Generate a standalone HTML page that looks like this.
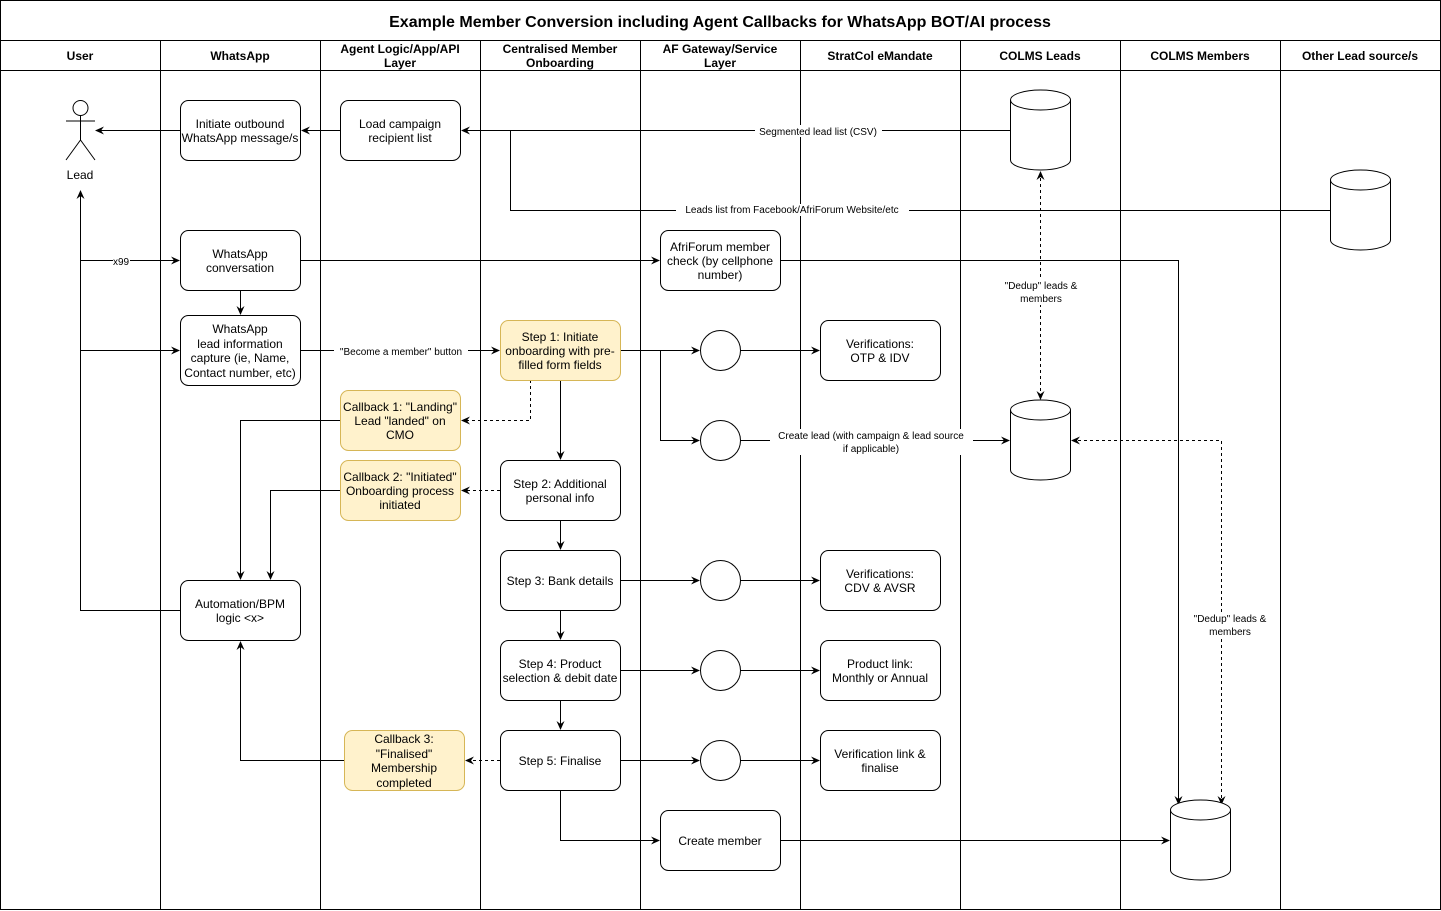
<!DOCTYPE html>
<html><head><meta charset="utf-8"><style>
html,body{margin:0;padding:0;background:#fff}
svg{display:block;font-family:"Liberation Sans",Arial,sans-serif}
</style></head><body>
<svg width="1441" height="911" viewBox="0 0 1441 911" xmlns="http://www.w3.org/2000/svg">
<defs>
<marker id="a" markerWidth="10" markerHeight="10" refX="8" refY="5" orient="auto" markerUnits="userSpaceOnUse"><path d="M0,1 L9,5 L0,9 L3,5 Z" fill="#000"/></marker>
<marker id="as" markerWidth="10" markerHeight="10" refX="2" refY="5" orient="auto" markerUnits="userSpaceOnUse"><path d="M10,1 L1,5 L10,9 L7,5 Z" fill="#000"/></marker>
</defs>
<g fill="none" stroke="#000" stroke-width="1">
<rect x="0.5" y="0.5" width="1440" height="909"/>
<line x1="0" y1="40.5" x2="1441" y2="40.5"/>
<line x1="0" y1="70.5" x2="1441" y2="70.5"/>
<line x1="160.5" y1="40" x2="160.5" y2="910"/>
<line x1="320.5" y1="40" x2="320.5" y2="910"/>
<line x1="480.5" y1="40" x2="480.5" y2="910"/>
<line x1="640.5" y1="40" x2="640.5" y2="910"/>
<line x1="800.5" y1="40" x2="800.5" y2="910"/>
<line x1="960.5" y1="40" x2="960.5" y2="910"/>
<line x1="1120.5" y1="40" x2="1120.5" y2="910"/>
<line x1="1280.5" y1="40" x2="1280.5" y2="910"/>
</g>
<g font-size="12" font-weight="bold" text-anchor="middle">
<text x="720" y="27" font-size="16">Example Member Conversion including Agent Callbacks for WhatsApp BOT/AI process</text>
<text x="80" y="60">User</text>
<text x="240" y="60">WhatsApp</text>
<text x="400" y="53">Agent Logic/App/API</text><text x="400" y="67">Layer</text>
<text x="560" y="53">Centralised Member</text><text x="560" y="67">Onboarding</text>
<text x="720" y="53">AF Gateway/Service</text><text x="720" y="67">Layer</text>
<text x="880" y="60">StratCol eMandate</text>
<text x="1040" y="60">COLMS Leads</text>
<text x="1200" y="60">COLMS Members</text>
<text x="1360" y="60">Other Lead source/s</text>
</g>
<!-- connectors -->
<g fill="none" stroke="#000" stroke-width="1">
<path d="M1010,130.5 H462" marker-end="url(#a)"/>
<path d="M1330,210.5 H510.5 V130.5"/>
<path d="M180,130.5 H96" marker-end="url(#a)"/>
<path d="M340,130.5 H302" marker-end="url(#a)"/>
<path d="M180,610.5 H80.5 V191" marker-end="url(#a)"/>
<path d="M80.5,260.5 H179" marker-end="url(#a)"/>
<path d="M80.5,350.5 H179" marker-end="url(#a)"/>
<path d="M240.5,290 V314" marker-end="url(#a)"/>
<path d="M300,260.5 H659" marker-end="url(#a)"/>
<path d="M780,260.5 H1178.5 V804" marker-end="url(#a)"/>
<path d="M300,350.5 H499" marker-end="url(#a)"/>
<path d="M620,350.5 H699" marker-end="url(#a)"/>
<path d="M740,350.5 H819" marker-end="url(#a)"/>
<path d="M660.5,350.5 V440.5 H699" marker-end="url(#a)"/>
<path d="M740,440.5 H1009" marker-end="url(#a)"/>
<path d="M530.5,380 V420.5 H462" stroke-dasharray="3,3" marker-end="url(#a)"/>
<path d="M560.5,380 V459" marker-end="url(#a)"/>
<path d="M340,420.5 H240.5 V579" marker-end="url(#a)"/>
<path d="M500,490.5 H462" stroke-dasharray="3,3" marker-end="url(#a)"/>
<path d="M340,490.5 H270.5 V579" marker-end="url(#a)"/>
<path d="M560.5,520 V549" marker-end="url(#a)"/>
<path d="M620,580.5 H699" marker-end="url(#a)"/>
<path d="M740,580.5 H819" marker-end="url(#a)"/>
<path d="M560.5,610 V639" marker-end="url(#a)"/>
<path d="M620,670.5 H699" marker-end="url(#a)"/>
<path d="M740,670.5 H819" marker-end="url(#a)"/>
<path d="M560.5,700 V729" marker-end="url(#a)"/>
<path d="M500,760.5 H466" stroke-dasharray="3,3" marker-end="url(#a)"/>
<path d="M344,760.5 H240.5 V642" marker-end="url(#a)"/>
<path d="M620,760.5 H699" marker-end="url(#a)"/>
<path d="M740,760.5 H819" marker-end="url(#a)"/>
<path d="M560.5,790 V840.5 H659" marker-end="url(#a)"/>
<path d="M780,840.5 H1169" marker-end="url(#a)"/>
<path d="M1040.5,172 V399" stroke-dasharray="3,3" marker-start="url(#as)" marker-end="url(#a)"/>
<path d="M1072,440.5 H1221.5 V804" stroke-dasharray="3,3" marker-start="url(#as)" marker-end="url(#a)"/>
</g>
<!-- edge labels -->
<g font-size="10" text-anchor="middle">
<rect x="755" y="125" width="127" height="12" fill="#fff"/><text x="818" y="135">Segmented lead list (CSV)</text>
<rect x="676" y="204" width="233" height="12" fill="#fff"/><text x="792" y="213">Leads list from Facebook/AfriForum Website/etc</text>
<rect x="113" y="255" width="17" height="12" fill="#fff"/><text x="121" y="265">x99</text>
<rect x="334" y="345" width="134" height="12" fill="#fff"/><text x="401" y="355">"Become a member" button</text>
<rect x="770" y="429" width="203" height="26" fill="#fff"/><text x="871" y="439">Create lead (with campaign &amp; lead source</text><text x="871" y="452">if applicable)</text>
<rect x="1000" y="279" width="82" height="26" fill="#fff"/><text x="1041" y="289">"Dedup" leads &amp;</text><text x="1041" y="302">members</text>
<rect x="1189" y="612" width="82" height="26" fill="#fff"/><text x="1230" y="622">"Dedup" leads &amp;</text><text x="1230" y="635">members</text>
</g>
<!-- actor -->
<g fill="none" stroke="#000">
<circle cx="80.5" cy="108" r="7.5" fill="#fff"/>
<path d="M80.5,115.5 V140 M66,121 H95 M80.5,140 L66,160 M80.5,140 L95,160"/>
</g>
<text x="80" y="179" font-size="12" text-anchor="middle">Lead</text>
<!-- cylinders -->
<g fill="#fff" stroke="#000">
<path d="M1010.5,100 V160 A30,10 0 0 0 1070.5,160 V100 A30,10 0 0 0 1010.5,100 Z M1010.5,100 A30,10 0 0 0 1070.5,100"/>
<path d="M1010.5,410 V470 A30,10 0 0 0 1070.5,470 V410 A30,10 0 0 0 1010.5,410 Z M1010.5,410 A30,10 0 0 0 1070.5,410"/>
<path d="M1330.5,180 V240 A30,10 0 0 0 1390.5,240 V180 A30,10 0 0 0 1330.5,180 Z M1330.5,180 A30,10 0 0 0 1390.5,180"/>
<path d="M1170.5,810 V870 A30,10 0 0 0 1230.5,870 V810 A30,10 0 0 0 1170.5,810 Z M1170.5,810 A30,10 0 0 0 1230.5,810"/>
</g>
<!-- circles -->
<g fill="#fff" stroke="#000">
<circle cx="720.5" cy="350.5" r="20"/><circle cx="720.5" cy="440.5" r="20"/>
<circle cx="720.5" cy="580.5" r="20"/><circle cx="720.5" cy="670.5" r="20"/>
<circle cx="720.5" cy="760.5" r="20"/>
</g>
<!-- boxes -->
<g stroke="#000" fill="#fff">
<rect x="180.5" y="100.5" width="120" height="60" rx="8"/>
<rect x="340.5" y="100.5" width="120" height="60" rx="8"/>
<rect x="180.5" y="230.5" width="120" height="60" rx="8"/>
<rect x="180.5" y="315.5" width="120" height="70" rx="8"/>
<rect x="180.5" y="580.5" width="120" height="60" rx="8"/>
<rect x="660.5" y="230.5" width="120" height="60" rx="8"/>
<rect x="500.5" y="460.5" width="120" height="60" rx="8"/>
<rect x="500.5" y="550.5" width="120" height="60" rx="8"/>
<rect x="500.5" y="640.5" width="120" height="60" rx="8"/>
<rect x="500.5" y="730.5" width="120" height="60" rx="8"/>
<rect x="660.5" y="810.5" width="120" height="60" rx="8"/>
<rect x="820.5" y="320.5" width="120" height="60" rx="8"/>
<rect x="820.5" y="550.5" width="120" height="60" rx="8"/>
<rect x="820.5" y="640.5" width="120" height="60" rx="8"/>
<rect x="820.5" y="730.5" width="120" height="60" rx="8"/>
</g>
<g stroke="#d6b656" fill="#fff2cc">
<rect x="500.5" y="320.5" width="120" height="60" rx="8"/>
<rect x="340.5" y="390.5" width="120" height="60" rx="8"/>
<rect x="340.5" y="460.5" width="120" height="60" rx="8"/>
<rect x="344.5" y="730.5" width="120" height="60" rx="8"/>
</g>
<g font-size="12" text-anchor="middle">
<text x="240" y="128">Initiate outbound</text><text x="240" y="142">WhatsApp message/s</text>
<text x="400" y="128">Load campaign</text><text x="400" y="142">recipient list</text>
<text x="240" y="258">WhatsApp</text><text x="240" y="272">conversation</text>
<text x="240" y="333">WhatsApp</text><text x="240" y="348">lead information</text><text x="240" y="362">capture (ie, Name,</text><text x="240" y="377">Contact number, etc)</text>
<text x="240" y="608">Automation/BPM</text><text x="240" y="622">logic &lt;x&gt;</text>
<text x="720" y="251">AfriForum member</text><text x="720" y="265">check (by cellphone</text><text x="720" y="279">number)</text>
<text x="560" y="341">Step 1: Initiate</text><text x="560" y="355">onboarding with pre-</text><text x="560" y="369">filled form fields</text>
<text x="400" y="411">Callback 1: "Landing"</text><text x="400" y="425">Lead "landed" on</text><text x="400" y="439">CMO</text>
<text x="400" y="481">Callback 2: "Initiated"</text><text x="400" y="495">Onboarding process</text><text x="400" y="509">initiated</text>
<text x="560" y="488">Step 2: Additional</text><text x="560" y="502">personal info</text>
<text x="560" y="585">Step 3: Bank details</text>
<text x="560" y="668">Step 4: Product</text><text x="560" y="682">selection &amp; debit date</text>
<text x="560" y="765">Step 5: Finalise</text>
<text x="404" y="743">Callback 3:</text><text x="404" y="758">"Finalised"</text><text x="404" y="772">Membership</text><text x="404" y="787">completed</text>
<text x="720" y="845">Create member</text>
<text x="880" y="348">Verifications:</text><text x="880" y="362">OTP &amp; IDV</text>
<text x="880" y="578">Verifications:</text><text x="880" y="592">CDV &amp; AVSR</text>
<text x="880" y="668">Product link:</text><text x="880" y="682">Monthly or Annual</text>
<text x="880" y="758">Verification link &amp;</text><text x="880" y="772">finalise</text>
</g>
</svg>
</body></html>
